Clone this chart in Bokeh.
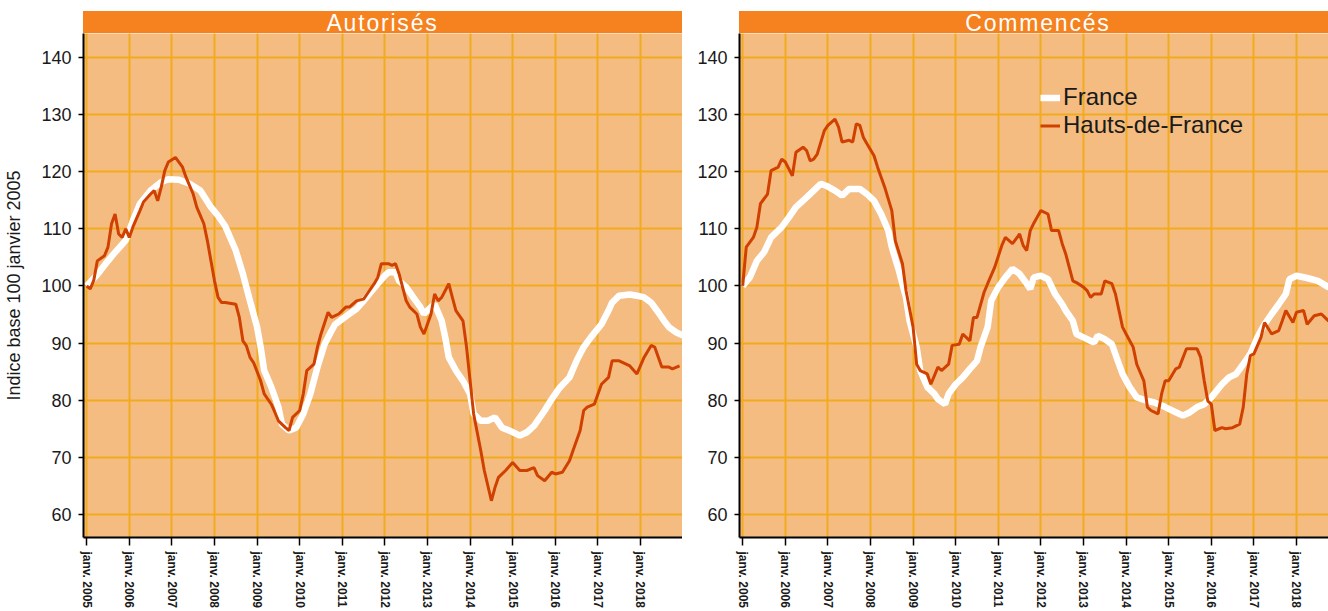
from bokeh.plotting import figure
from bokeh.layouts import row, column
from bokeh.models import Div, FixedTicker, Range1d, Legend, LegendItem
from bokeh.embed import file_html
from bokeh.resources import INLINE

# ---------------- data (months counted from janv. 2005) ----------------
tick_months = [0, 12, 24, 36, 48, 60, 72, 84, 96, 108, 120, 132, 144, 156]
tick_labels = ["janv. 2005", "janv. 2006", "janv. 2007", "janv. 2008", "janv. 2009",
               "janv. 2010", "janv. 2011", "janv. 2012", "janv. 2013", "janv. 2014",
               "janv. 2015", "janv. 2016", "janv. 2017", "janv. 2018"]
y_ticks = [60, 70, 80, 90, 100, 110, 120, 130, 140]

# Autorisés - France
aut_fr_m = [0, 3, 6, 8, 11, 13, 15, 18, 21, 23, 26, 29, 32, 35, 37, 39, 42, 44, 46, 48, 49, 50,
            52, 54, 55, 57, 59, 61, 63, 65, 67, 69, 70, 72, 74, 76, 78, 80, 82, 84, 85, 87, 88,
            90, 92, 94, 95, 97, 98, 100, 101, 102, 104, 106, 108, 109, 111, 113, 115, 117, 119,
            122, 124, 126, 129, 131, 133, 136, 138, 140, 142, 145, 147, 148, 150, 153, 155, 157,
            159, 161, 163, 164, 166, 168]
aut_fr_v = [100, 102, 104.4, 105.9, 108, 111.4, 114.4, 116.7, 118.2, 118.7, 118.6, 117.9, 116.7,
            113.8, 112.3, 110.5, 106.2, 102.1, 97.4, 92.8, 89.3, 85.2, 82.3, 78.8, 75.8, 74.7,
            75.2, 77.6, 81.1, 85.8, 89.8, 92.2, 93.3, 94.2, 95.1, 96, 97.4, 98.9, 100.4, 101.8,
            102.4, 102.4, 100.9, 99.8, 98, 96.3, 95.1, 96.3, 96.8, 93.9, 91, 87.5, 85.2, 83.4,
            81.1, 77.6, 76.4, 76.4, 77, 75.2, 74.7, 73.8, 74.4, 75.5, 78.2, 80.2, 82, 84, 86.9,
            89.3, 91, 93.3, 95.7, 97.1, 98.3, 98.5, 98.3, 98, 97.1, 95.4, 93.6, 92.8, 91.9, 91.3]

# Autorisés - Hauts-de-France
aut_hdf_m = [0, 1, 2, 3, 5, 6, 7, 8, 9, 10, 11, 12, 13, 15, 16, 18, 19, 20, 21, 22, 23, 25, 27,
             28, 30, 31, 33, 34, 35, 36, 37, 38, 39, 42, 43, 44, 45, 46, 47, 49, 50, 52, 53, 54,
             56, 57, 58, 60, 61, 62, 64, 65, 66, 68, 69, 71, 73, 74, 76, 78, 79, 81, 82, 83, 85,
             86, 87, 88, 90, 91, 93, 94, 95, 97, 98, 99, 100, 102, 103, 104, 106, 107, 108, 109,
             111, 112, 114, 115, 116, 118, 120, 122, 124, 126, 127, 129, 131, 132, 134, 136, 137,
             139, 140, 141, 143, 145, 147, 148, 150, 153, 155, 157, 159, 160, 162, 164, 165, 167]
aut_hdf_v = [100, 99.5, 101, 104.4, 105.3, 106.8, 110.9, 112.6, 109.1, 108.5, 110, 108.5, 110.3,
             113.2, 114.7, 116.1, 116.7, 114.9, 117.3, 120.2, 121.7, 122.5, 120.8, 119, 116.1,
             113.8, 110.9, 107.9, 104.4, 100.9, 98, 97.1, 97.1, 96.8, 94.5, 90.4, 89.5, 87.5,
             86.6, 83.4, 81.1, 79.3, 77.9, 76.4, 75.2, 74.7, 77, 78.2, 81.1, 85.2, 86.3, 89.3,
             91.6, 95.4, 94.5, 95.1, 96.3, 96.3, 97.4, 97.7, 98.6, 100.4, 101.5, 103.9, 103.9,
             103.6, 103.9, 102.1, 97.4, 96.3, 95.1, 92.8, 91.6, 95.1, 98.6, 97.4, 98, 100.4, 98,
             95.7, 93.9, 89.3, 83.4, 77.6, 71.2, 67.7, 62.4, 64.7, 66.5, 67.7, 69.1, 67.7, 67.7,
             68.2, 66.8, 65.9, 67.4, 67.1, 67.4, 69.4, 71.2, 74.7, 78.2, 78.8, 79.3, 82.8, 84,
             86.9, 86.9, 86, 84.6, 87.5, 89.6, 89.3, 85.8, 85.8, 85.5, 86]

# Commencés - France
com_fr_m = [0, 2, 4, 6, 8, 11, 13, 15, 18, 20, 22, 24, 26, 28, 30, 33, 35, 37, 39, 41, 42, 44,
            46, 47, 49, 50, 52, 54, 55, 57, 58, 60, 62, 64, 66, 67, 69, 70, 72, 74, 76, 78, 80,
            81, 82, 84, 86, 88, 90, 91, 93, 94, 96, 99, 100, 102, 104, 106, 107, 109, 111, 114,
            116, 119, 122, 124, 126, 128, 130, 132, 135, 137, 139, 141, 143, 145, 147, 149, 151,
            153, 154, 156, 159, 162, 165, 167]
com_fr_v = [100, 101.5, 104.4, 105.9, 108.5, 110.3, 112, 113.8, 115.5, 116.7, 117.9, 117.4,
            116.7, 115.8, 117, 117, 116.1, 114.9, 112.6, 109.7, 106.8, 102.7, 98, 93.9, 89.3,
            85.2, 82.3, 81.1, 80.2, 79.3, 81.1, 82.8, 84, 85.5, 86.9, 89.3, 92.8, 97.4, 99.8,
            101.5, 103, 102.1, 100.4, 99.5, 101.5, 101.8, 101.2, 98.6, 96.8, 95.7, 93.9, 91.6,
            91, 90.1, 91.3, 90.7, 89.8, 86.3, 84.6, 82.3, 80.5, 79.9, 79.6, 78.8, 77.9, 77.3,
            77.9, 78.8, 79.3, 80.5, 82.8, 84, 84.6, 86.3, 88.1, 91, 93.3, 95.1, 96.8, 98.6, 101.2,
            101.8, 101.4, 100.9, 99.8, 99.2]

# Commencés - Hauts-de-France
com_hdf_m = [0, 1, 3, 4, 5, 7, 8, 10, 11, 12, 14, 15, 17, 18, 19, 20, 21, 23, 24, 26, 27, 28,
             30, 31, 32, 33, 34, 35, 37, 38, 40, 42, 43, 45, 46, 48, 49, 50, 52, 53, 55, 56, 58,
             59, 61, 62, 64, 65, 66, 68, 69, 71, 73, 74, 76, 78, 79, 80, 81, 82, 84, 86, 87, 89,
             90, 91, 93, 94, 96, 97, 98, 99, 101, 102, 104, 105, 107, 108, 110, 111, 113, 114,
             115, 117, 118, 119, 120, 122, 123, 125, 126, 128, 129, 130, 131, 132, 133, 135, 136,
             138, 140, 141, 142, 143, 144, 146, 147, 149, 151, 152, 153, 155, 156, 158, 159, 161,
             163, 165, 167]
com_hdf_v = [100, 106.8, 108.5, 110.3, 114.4, 116.1, 120.2, 120.8, 122.2, 121.7, 119.3, 123.4,
             124.3, 123.7, 121.9, 122.2, 123.1, 127.2, 128.1, 129.2, 127.8, 125.2, 125.5, 125.2,
             128.4, 128.1, 126, 124.9, 122.8, 120.8, 117.3, 113.2, 107.9, 103.9, 99.2, 92.8, 86.3,
             85.2, 84.6, 82.8, 85.8, 85.2, 86.3, 89.6, 89.8, 91.6, 90.4, 94.5, 94.5, 98.9, 100.4,
             103.3, 107.1, 108.5, 107.4, 109.1, 107.1, 106.2, 109.7, 111, 113.2, 112.6, 109.7,
             109.7, 107.4, 105.6, 100.9, 100.6, 99.8, 99.2, 98, 98.6, 98.6, 100.9, 100.4, 98.6,
             92.8, 91.6, 89.3, 86.3, 83.4, 78.8, 78.2, 77.6, 81.1, 83.4, 83.4, 85.5, 85.8, 89, 89,
             89, 87.5, 83.4, 79.9, 79.3, 74.7, 75.2, 75, 75.2, 75.8, 78.8, 84.6, 87.8, 88.1, 91,
             93.6, 91.6, 92.2, 93.9, 95.7, 93.6, 95.4, 95.7, 93.3, 94.8, 95.1, 93.9, 93]

series_names = ["France", "Hauts-de-France"]
panel_titles = ["Autorisés", "Commencés"]
y_axis_title = "Indice base 100 janvier 2005"

# ---------------- style ----------------
BG = "#F4BC80"
GRID = "#F2AA1E"
BAND = "#F5821F"
RED = "#D04000"
TXT = "#1a1a1a"
FONT = "Liberation Sans"
PX_PER_MONTH = 3.55
X_START = -0.9
Y_RANGE = (55.97, 144.2)
FRAME_H = 504
BOTTOM = 74


def make_panel(fr_m, fr_v, hdf_m, hdf_v, frame_w, border_left, ylabel):
    p = figure(width=frame_w + border_left, height=FRAME_H + BOTTOM,
               x_range=Range1d(X_START, X_START + frame_w / PX_PER_MONTH),
               y_range=Range1d(*Y_RANGE),
               output_backend="svg", toolbar_location=None, title=None,
               min_border_left=border_left, min_border_right=0,
               min_border_top=0, min_border_bottom=BOTTOM,
               background_fill_color=BG, border_fill_color="white",
               outline_line_color=None)
    p.xaxis.ticker = FixedTicker(ticks=tick_months)
    p.xaxis.major_label_overrides = {m: lab for m, lab in zip(tick_months, tick_labels)}
    p.xaxis.major_label_orientation = "vertical"
    p.xaxis.major_label_text_font_style = "bold"
    p.xaxis.major_label_text_font_size = "12px"
    p.xaxis.major_tick_out = 8
    p.xaxis.major_label_standoff = 6
    p.yaxis.ticker = FixedTicker(ticks=y_ticks)
    p.yaxis.major_label_text_font_size = "18px"
    p.yaxis.major_tick_out = 5
    p.yaxis.major_label_standoff = 7
    for ax in (p.xaxis, p.yaxis):
        ax.major_tick_in = 0
        ax.minor_tick_line_color = None
        ax.axis_line_color = "black"
        ax.axis_line_width = 2
        ax.major_tick_line_color = "black"
        ax.major_tick_line_width = 1.5
        ax.major_label_text_font = FONT
        ax.major_label_text_color = TXT
    if ylabel:
        p.yaxis.axis_label = ylabel
        p.yaxis.axis_label_text_font = FONT
        p.yaxis.axis_label_text_font_size = "18px"
        p.yaxis.axis_label_text_font_style = "normal"
        p.yaxis.axis_label_text_color = TXT
        p.yaxis.axis_label_standoff = 14
    p.xgrid.grid_line_color = GRID
    p.ygrid.grid_line_color = GRID
    p.xgrid.grid_line_width = 2
    p.ygrid.grid_line_width = 2
    r_fr = p.line(fr_m, fr_v, line_color="white", line_width=6.5)
    r_hdf = p.line(hdf_m, hdf_v, line_color=RED, line_width=3)
    return p, r_fr, r_hdf


def make_band(text, width, left, indent):
    return Div(text=text, width=width, height=22, margin=(11, 0, 0, left),
               styles={"background-color": BAND, "color": "white",
                       "font-family": "'Liberation Sans', Arial, sans-serif",
                       "font-size": "23px", "text-align": "center",
                       "letter-spacing": "1.8px",
                       "line-height": "25px", "text-indent": f"{indent}px"})


p1, _, _ = make_panel(aut_fr_m, aut_fr_v, aut_hdf_m, aut_hdf_v, 599, 83, y_axis_title)
p2, r_fr2, r_hdf2 = make_panel(com_fr_m, com_fr_v, com_hdf_m, com_hdf_v, 589, 57, None)

legend = Legend(items=[LegendItem(label=series_names[0], renderers=[r_fr2]),
                       LegendItem(label=series_names[1], renderers=[r_hdf2])],
                location=(301, 398), padding=0, margin=0, spacing=0,
                glyph_width=20, glyph_height=27, label_height=27, label_standoff=3,
                label_text_font=FONT, label_text_font_size="24px",
                label_text_color=TXT, background_fill_alpha=0, border_line_color=None)
p2.add_layout(legend)

b1 = make_band(panel_titles[0], 599, 83, 0)
b2 = make_band(panel_titles[1], 589, 57, 9)

layout = row(column(b1, p1), column(b2, p2))
open("out.html", "w").write(file_html(layout, INLINE))
